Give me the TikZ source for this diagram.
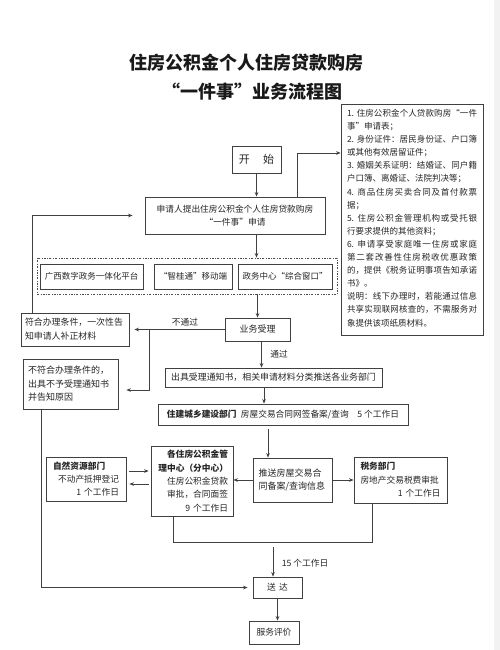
\documentclass[tikz,border=0pt]{standalone}
\usepackage{fontspec}
\setmainfont{Noto Sans CJK SC}
\usetikzlibrary{arrows.meta,calc}
\XeTeXlinebreaklocale "zh"
\XeTeXlinebreakskip=0pt plus 2pt
\newcommand\myfs[2]{\fontsize{#1}{#2}\selectfont}
\begin{document}
\begin{tikzpicture}[x=1pt,y=-1pt,
  box/.style={draw=black!75, line width=0.8pt, inner sep=0pt, align=center, text=black!85},
  dotbox/.style={draw=black!70, line width=0.8pt, dash pattern=on 2pt off 1.5pt on 0.6pt off 1.5pt, inner sep=0pt},
  arr/.style={draw=black!75, line width=0.7pt, -{Stealth[length=4.5pt,width=3.6pt]}},
  ln/.style={draw=black!75, line width=0.7pt},
  lbl/.style={inner sep=0pt, text=black!85, font=\myfs{8.7}{10}}
]
\fill[white] (0,0) rectangle (500,650);
\fill[black!5] (494,0) rectangle (500,650);
\useasboundingbox (0,0) rectangle (500,650);

% title
\node[inner sep=0pt, font=\myfs{18}{20}\bfseries, text=black!90] (t1) at (246,63) {住房公积金个人住房贷款购房};
\node[inner sep=0pt, font=\myfs{18}{20}\bfseries, text=black!90] (t2) at (252,92) {“一件事”业务流程图};

% start
\node[box, minimum width=49, minimum height=27, font=\myfs{11}{13}] (ks) at (256.5,159.5) {开\hspace{1.2em}始};

% application
\node[box, minimum width=180, minimum height=37, font=\myfs{8.7}{12.5}] (sq) at (235,215.5) {申请人提出住房公积金个人住房贷款购房\\“一件事”申请};

% materials list
\node[box, minimum width=142, minimum height=231] (cl) at (412,219.5) {};
\node[inner sep=0pt, anchor=north, text width=130, align=justify, text=black!85, font=\myfs{8.5}{13.1}] (clt) at (412,109) {\setlength\parskip{0pt}\baselineskip=13.1pt
1. 住房公积金个人贷款购房“一件\linebreak
事”申请表；\\
2. 身份证件：居民身份证、户口簿\linebreak
或其他有效居留证件；\\
3. 婚姻关系证明：结婚证、同户籍\linebreak
户口簿、离婚证、法院判决等；\\
4. 商品住房买卖合同及首付款票\linebreak
据；\\
5. 住房公积金管理机构或受托银\linebreak
行要求提供的其他资料；\\
6. 申请享受家庭唯一住房或家庭\linebreak
第二套改善性住房税收优惠政策\linebreak
的，提供《税务证明事项告知承诺\linebreak
书》。\\
说明：线下办理时，若能通过信息\linebreak
共享实现联网核查的，不需服务对\linebreak
象提供该项纸质材料。};

% channels
\node[dotbox, minimum width=300, minimum height=36] (dot) at (187,276) {};
\node[box, minimum width=103, minimum height=25, font=\myfs{8.5}{10}] (p1) at (91.5,276.5) {广西数字政务一体化平台};
\node[box, minimum width=78, minimum height=25, font=\myfs{8.5}{10}] (p2) at (193,276.5) {“智桂通”移动端};
\node[box, minimum width=94, minimum height=25, font=\myfs{8.5}{10}] (p3) at (285,276.5) {政务中心“综合窗口”};

% acceptance
\node[box, minimum width=65, minimum height=23, font=\myfs{9}{10}] (yw) at (257.5,329.5) {业务受理};
\node[box, minimum width=108, minimum height=33, text width=100, align=left, font=\myfs{8.9}{14}] (fh) at (75,329.5) {符合办理条件，一次性告\\知申请人补正材料};
\node[box, minimum width=95, minimum height=50, text width=85, align=left, font=\myfs{9}{13.5}] (bf) at (70.5,384) {不符合办理条件的，\\出具不予受理通知书\\并告知原因};

\node[box, minimum width=217, minimum height=19, font=\myfs{8.9}{10}] (cj) at (273.5,377.5) {出具受理通知书，相关申请材料分类推送各业务部门};
\node[box, minimum width=250, minimum height=21, font=\myfs{8.7}{10}] (zj) at (283,414.5) {{\bfseries 住建城乡建设部门}\hspace{0.5em}房屋交易合同网签备案/查询\hspace{1em}5 个工作日};

\node[box, minimum width=79, minimum height=44, text width=68, align=left, font=\myfs{9}{12.5}] (ts) at (292.5,480) {推送房屋交易合\\同备案/查询信息};
\node[box, minimum width=82, minimum height=70, text width=72, align=left, font=\myfs{8.7}{13.3}] (gl) at (192,481) {\hspace*{\fill}{\bfseries 各住房公积金管}\hspace*{\fill}\\\hspace*{\fill}{\bfseries 理中心（分中心）}\hspace*{\fill}\\\hspace*{\fill}住房公积金贷款\hspace*{\fill}\\\hspace*{\fill}审批，合同面签\hspace*{\fill}\\\hspace*{\fill}9 个工作日};
\node[box, minimum width=80, minimum height=44, text width=66, align=left, font=\myfs{8.7}{13}] (zr) at (86,479) {{\bfseries 自然资源部门}\\\hspace*{\fill}不动产抵押登记\hspace*{\fill}\\\hspace*{\fill}1 个工作日};
\node[box, minimum width=93, minimum height=46, text width=80, align=left, font=\myfs{8.7}{13.5}] (sw) at (400.5,480) {{\bfseries 税务部门}\\房地产交易税费审批\\\hspace*{\fill}1 个工作日};

\node[box, minimum width=49, minimum height=21, font=\myfs{8.7}{10}] (sd) at (277.5,587.5) {送\hspace{0.4em}达};
\node[box, minimum width=50, minimum height=23, font=\myfs{8.7}{10}] (pj) at (274,632.5) {服务评价};

% labels
\node[lbl] (l1) at (185,322) {不通过};
\node[lbl] (l2) at (279,354) {通过};
\node[lbl] (l3) at (305,563) {15 个工作日};

% coordinates
\coordinate (m1) at (297,153);
\coordinate (br) at (149,329.5);
\coordinate (xa) at (264,0);
\coordinate (xb) at (268,0);
\coordinate (xc) at (173,542);
\coordinate (xd) at (372,542);
\coordinate (xe) at (273,547);

% connectors
\draw[arr] (ks.south) -- (ks.south |- sq.north);
\draw[arr] (sq.north -| m1) |- (cl.west |- m1);
\draw[arr] (sq.south -| ks) -- (dot.north -| ks);
\draw[arr] (dot.south -| yw) -- (yw.north);
\draw[arr, shorten >=5pt] (yw.west) -- (fh.east);
\draw[arr, shorten >=8pt] (br) |- ([yshift=-6pt]bf.east);
\draw[arr, shorten >=12pt] ([xshift=12pt]fh.north west) |- (sq.west);
\draw[arr, shorten >=5pt] ([xshift=19pt]bf.south west) |- (sd.west);
\draw[arr] ([xshift=4pt]yw.south) -- ([xshift=4pt]yw.south |- cj.north);
\draw[arr] (cj.south -| xa) -- (zj.north -| xa);
\draw[arr] ([yshift=-4pt]zj.south -| xb) -- (ts.north -| xb);
\draw[arr] (ts.west) -- (ts.west -| gl.east);
\draw[arr] (ts.east) -- (ts.east -| sw.west);
\draw[arr, shorten <=3pt, shorten >=2pt] ([yshift=8pt]zr.east) -- ([yshift=8pt]zr.east -| gl.west);
\draw[arr, shorten <=2pt, shorten >=3pt] ([yshift=-5pt]zr.east -| gl.west) -- ([yshift=-5pt]zr.east);
\draw[ln] (gl.south -| xc) -- (xc) -- (xd) -- (sw.south -| xd);
\draw[arr] (xe) -- (sd.north -| xe);
\draw[arr] (sd.south) -- (sd.south |- pj.north);
\end{tikzpicture}
\end{document}
